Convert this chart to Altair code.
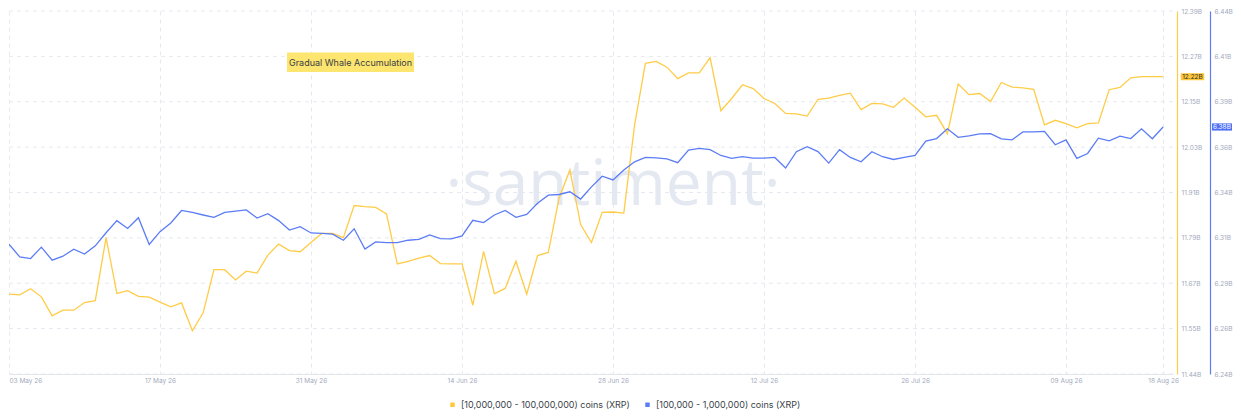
import altair as alt
import pandas as pd

# ---------------- data ----------------
YELLOW_NAME = "[10,000,000 - 100,000,000) coins (XRP)"
BLUE_NAME = "[100,000  - 1,000,000) coins (XRP)"
ANNOT_TEXT = "Gradual Whale Accumulation"
WATERMARK = "·santiment·"

start_date = "2026-05-03"

# balances in billions of XRP, one value per day from 03 May 26
yellow_vals = [
    11.649, 11.647, 11.663, 11.642, 11.592, 11.607, 11.607, 11.627, 11.632, 11.797,
    11.651, 11.658, 11.643, 11.641, 11.628, 11.616, 11.626, 11.553, 11.600, 11.713,
    11.713, 11.686, 11.709, 11.704, 11.751, 11.780, 11.763, 11.760, 11.784, 11.808,
    11.808, 11.797, 11.881, 11.878, 11.876, 11.859, 11.728, 11.735, 11.743, 11.750,
    11.729, 11.728, 11.728, 11.620, 11.761, 11.650, 11.664, 11.735, 11.649, 11.750,
    11.758, 11.900, 11.974, 11.831, 11.784, 11.863, 11.864, 11.861, 12.092, 12.253,
    12.258, 12.243, 12.213, 12.228, 12.228, 12.268, 12.129, 12.161, 12.197, 12.187,
    12.161, 12.148, 12.122, 12.121, 12.115, 12.159, 12.162, 12.169, 12.175, 12.132,
    12.148, 12.147, 12.138, 12.162, 12.138, 12.113, 12.117, 12.069, 12.199, 12.171,
    12.174, 12.153, 12.203, 12.191, 12.189, 12.185, 12.092, 12.104, 12.095, 12.084,
    12.095, 12.097, 12.184, 12.190, 12.215, 12.218, 12.218, 12.218,
]

blue_vals = [
    6.3115, 6.3045, 6.3036, 6.3099, 6.3027, 6.3049, 6.3088, 6.3061, 6.3106, 6.3178,
    6.3245, 6.3202, 6.3261, 6.3114, 6.3184, 6.3232, 6.3301, 6.3290, 6.3276, 6.3263,
    6.3290, 6.3297, 6.3304, 6.3259, 6.3283, 6.3245, 6.3193, 6.3212, 6.3177, 6.3175,
    6.3171, 6.3137, 6.3200, 6.3088, 6.3128, 6.3124, 6.3124, 6.3137, 6.3142, 6.3166,
    6.3146, 6.3144, 6.3161, 6.3247, 6.3234, 6.3276, 6.3301, 6.3263, 6.3279, 6.3341,
    6.3385, 6.3389, 6.3404, 6.3364, 6.3431, 6.3490, 6.3469, 6.3524, 6.3569, 6.3593,
    6.3591, 6.3585, 6.3564, 6.3634, 6.3643, 6.3636, 6.3604, 6.3588, 6.3598, 6.3589,
    6.3589, 6.3593, 6.3535, 6.3625, 6.3652, 6.3625, 6.3562, 6.3636, 6.3593, 6.3569,
    6.3625, 6.3597, 6.3582, 6.3593, 6.3605, 6.3683, 6.3697, 6.3751, 6.3704, 6.3712,
    6.3723, 6.3724, 6.3696, 6.3690, 6.3734, 6.3734, 6.3737, 6.3663, 6.3690, 6.3588,
    6.3615, 6.3699, 6.3685, 6.3710, 6.3697, 6.3751, 6.3696, 6.3761,
]

x_tick_dates = ["2026-05-03", "2026-05-17", "2026-05-31", "2026-06-14", "2026-06-28",
                "2026-07-12", "2026-07-26", "2026-08-09", "2026-08-18"]
yellow_ticks = [11.44, 11.55875, 11.6775, 11.79625, 11.915, 12.03375, 12.1525, 12.27125, 12.39]
blue_ticks = [6.24, 6.265, 6.29, 6.315, 6.34, 6.365, 6.39, 6.415, 6.44]

# ---------------- styling ----------------
W, H = 1164, 363
YELLOW = "#FFCC47"
BLUE = "#5B7CF6"
TAG_YELLOW = "#FFC83A"
TAG_BLUE = "#4E6FF5"
GRID = "#e6e9f0"
LABEL = "#a3aabe"
FONT = "Inter"

dates = pd.date_range(start_date, periods=len(yellow_vals), freq="D")
df_y = pd.DataFrame({"date": dates, "value": yellow_vals})
df_b = pd.DataFrame({"date": dates, "value": blue_vals})
last_y = df_y.tail(1)
last_b = df_b.tail(1)


def dt(s):
    t = pd.Timestamp(s)
    return alt.DateTime(year=t.year, month=t.month, date=t.day)


x_scale = alt.Scale(domain=[dt(start_date),
                            alt.DateTime(year=2026, month=8, date=18, hours=22)])
x_axis = alt.Axis(values=[dt(d) for d in x_tick_dates], format="%d %b %y", title=None,
                  grid=True, gridDash=[4, 4], gridColor=GRID, domainColor="#e3e6ed",
                  ticks=False, labelColor=LABEL, labelFontSize=6.5, labelFont=FONT,
                  labelPadding=3)
x_enc = alt.X("date:T", scale=x_scale, axis=x_axis)

lab_expr = "format(floor(datum.value * 100 + 0.001) / 100, '.2f') + 'B'"


def ysc(ticks):
    return alt.Scale(domain=[ticks[0], ticks[-1]], nice=False, zero=False)


y_axis_y = alt.Axis(orient="right", values=yellow_ticks, labelExpr=lab_expr, title=None,
                    grid=False, domainColor=YELLOW,
                    domainWidth=1.2, ticks=False, labelColor=LABEL, labelFontSize=6.5,
                    labelFont=FONT, labelPadding=4, offset=4)
y_axis_b = alt.Axis(orient="right", values=blue_ticks, labelExpr=lab_expr, title=None,
                    grid=False, domainColor=BLUE, domainWidth=1.2, ticks=False,
                    labelColor=LABEL, labelFontSize=6.5, labelFont=FONT, labelPadding=4,
                    offset=37)

# ---------------- layers ----------------
grid_df = pd.DataFrame({"tick": yellow_ticks})
hgrid = alt.Chart(grid_df).mark_rule(color=GRID, strokeDash=[4, 4], strokeWidth=1).encode(
    y=alt.Y("tick:Q", scale=ysc(yellow_ticks), axis=None),
    x=alt.value(0), x2=alt.value(W))

watermark = alt.Chart(pd.DataFrame({"t": [WATERMARK]})).mark_text(
    fontSize=64, font="Open Sans", color="#e4e8f1", baseline="alphabetic", align="center"
).encode(x=alt.value(604), y=alt.value(194), text="t:N")

annot_df = pd.DataFrame({"t": [ANNOT_TEXT]})
annot_box = alt.Chart(annot_df).mark_rect(color="#FDE66F").encode(
    x=alt.value(278), x2=alt.value(405), y=alt.value(41.5), y2=alt.value(61))
annot_text = alt.Chart(annot_df).mark_text(
    fontSize=9, font=FONT, color="#3a3d45", align="center", baseline="middle"
).encode(x=alt.value(341.5), y=alt.value(51.5), text="t:N")

yellow_line = alt.Chart(df_y).mark_line(color=YELLOW, strokeWidth=1.3, clip=True).encode(
    x=x_enc, y=alt.Y("value:Q", scale=ysc(yellow_ticks), axis=y_axis_y))
blue_line = alt.Chart(df_b).mark_line(color=BLUE, strokeWidth=1.3, clip=True).encode(
    x=x_enc, y=alt.Y("value:Q", scale=ysc(blue_ticks), axis=y_axis_b))

yellow_tag = alt.Chart(last_y).mark_point(
    shape="M-1,-0.3L1,-0.3L1,0.3L-1,0.3Z", filled=True, size=552, color=TAG_YELLOW, opacity=1
).encode(x=alt.value(1183.5), y=alt.Y("value:Q", scale=ysc(yellow_ticks), axis=None))
yellow_tag_text = alt.Chart(last_y).transform_calculate(
    lab="format(datum.value, '.2f') + 'B'"
).mark_text(fontSize=6.5, font=FONT, color="#2a2a2a", align="center", baseline="middle").encode(
    x=alt.value(1183.5), y=alt.Y("value:Q", scale=ysc(yellow_ticks), axis=None), text="lab:N")

blue_tag = alt.Chart(last_b).mark_point(
    shape="M-1,-0.36L1,-0.36L1,0.36L-1,0.36Z", filled=True, size=400, color=TAG_BLUE, opacity=1
).encode(x=alt.value(1213), y=alt.Y("value:Q", scale=ysc(blue_ticks), axis=None))
blue_tag_text = alt.Chart(last_b).transform_calculate(
    lab="format(datum.value, '.2f') + 'B'"
).mark_text(fontSize=6.5, font=FONT, color="white", align="center", baseline="middle").encode(
    x=alt.value(1213), y=alt.Y("value:Q", scale=ysc(blue_ticks), axis=None), text="lab:N")

legend_df = pd.DataFrame({"series": [YELLOW_NAME, BLUE_NAME]})
legend_layer = alt.Chart(legend_df).mark_square(size=0, opacity=1).encode(
    x=alt.value(0), y=alt.value(0),
    color=alt.Color("series:N",
                    scale=alt.Scale(domain=[YELLOW_NAME, BLUE_NAME], range=[TAG_YELLOW, BLUE]),
                    legend=alt.Legend(orient="none", legendX=439, legendY=389,
                                      direction="horizontal", title=None, symbolType="square",
                                      symbolSize=20, symbolStrokeWidth=0, labelFontSize=9,
                                      labelFont=FONT, labelColor="#3b3f48", labelLimit=400,
                                      columnPadding=13, labelOffset=4, padding=0)))

chart = alt.layer(
    hgrid, watermark, annot_box, annot_text, yellow_line, blue_line,
    yellow_tag, yellow_tag_text, blue_tag, blue_tag_text, legend_layer
).resolve_scale(y="independent").properties(
    width=W, height=H, padding=0, background="white"
).configure_view(stroke=None)

chart.save("out.html", embed_options={"renderer": "svg", "actions": False})
